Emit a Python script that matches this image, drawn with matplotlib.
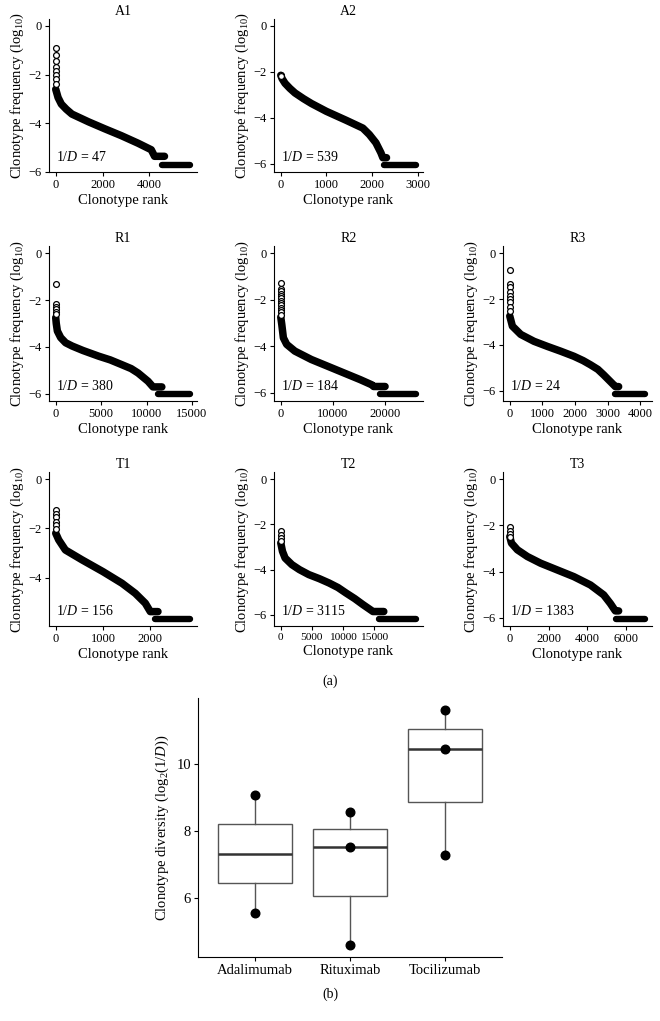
import numpy as np
import matplotlib
matplotlib.use('Agg')
import matplotlib.pyplot as plt
from matplotlib import transforms

plt.rcParams['font.family'] = ['Liberation Serif', 'DejaVu Serif']
plt.rcParams['mathtext.fontset'] = 'custom'
plt.rcParams['mathtext.rm'] = 'Liberation Serif'
plt.rcParams['mathtext.it'] = 'Liberation Serif:italic'
plt.rcParams['axes.unicode_minus'] = True

# --- rank/frequency curves (log10 frequency) ---
# main band (line), top singletons (open circles at rank ~0), flat tail
A1_rank = [0, 100, 240, 450, 690, 1400, 2100, 2800, 3510, 4075, 4217, 4640]
A1_freq = [-2.61, -2.95, -3.22, -3.43, -3.63, -3.95, -4.24, -4.52, -4.83, -5.10, -5.37, -5.37]
A1_top = [-0.91, -1.18, -1.43, -1.70, -1.84, -2.04, -2.20, -2.41]
A1_tail_rank = [4526, 5740]
A1_tail_freq = [-5.73, -5.73]

A2_rank = [0, 30, 94, 200, 312, 500, 674, 1000, 1435, 1800, 1943, 2087, 2196, 2240, 2320]
A2_freq = [-2.15, -2.30, -2.50, -2.72, -2.92, -3.17, -3.38, -3.72, -4.11, -4.45, -4.73, -5.09, -5.52, -5.74, -5.74]
A2_top = [-2.13, -2.20]
A2_tail_rank = [2270, 2972]
A2_tail_freq = [-6.06, -6.06]

R1_rank = [0, 60, 180, 545, 1090, 1808, 3000, 4715, 6000, 7253, 8300, 9070, 10160, 10705, 11680]
R1_freq = [-2.75, -3.00, -3.32, -3.60, -3.82, -3.96, -4.15, -4.39, -4.55, -4.75, -4.92, -5.11, -5.46, -5.70, -5.70]
R1_top = [-1.32, -2.15, -2.29, -2.40, -2.50, -2.60]
R1_tail_rank = [11250, 14810]
R1_tail_freq = [-6.00, -6.00]

R2_rank = [0, 190, 500, 1130, 2700, 5850, 9000, 12140, 15280, 17480, 17800, 20000]
R2_freq = [-2.75, -3.06, -3.64, -3.92, -4.21, -4.57, -4.86, -5.15, -5.44, -5.66, -5.73, -5.73]
R2_top = [-1.28, -1.55, -1.65, -1.75, -1.85, -1.95, -2.05, -2.15, -2.25, -2.35, -2.45, -2.55, -2.65]
R2_tail_rank = [19060, 25975]
R2_tail_freq = [-6.05, -6.05]

R3_rank = [0, 80, 336, 743, 1150, 1560, 1964, 2250, 2473, 2700, 2880, 3084, 3237, 3338]
R3_freq = [-2.74, -3.18, -3.54, -3.84, -4.06, -4.27, -4.49, -4.68, -4.86, -5.06, -5.30, -5.59, -5.81, -5.81]
R3_top = [-0.72, -1.35, -1.46, -1.71, -1.86, -2.00, -2.15, -2.34, -2.52]
R3_tail_rank = [3237, 4153]
R3_tail_freq = [-6.13, -6.13]

T1_rank = [0, 63, 204, 556, 1000, 1401, 1683, 1894, 2000, 2162]
T1_freq = [-2.20, -2.47, -2.88, -3.28, -3.76, -4.23, -4.64, -5.04, -5.38, -5.38]
T1_top = [-1.26, -1.42, -1.53, -1.73, -1.86, -2.04]
T1_tail_rank = [2106, 2845]
T1_tail_freq = [-5.68, -5.68]

T2_rank = [0, 270, 700, 1790, 3000, 4510, 6200, 7770, 9200, 10490, 11900, 13200, 14840, 16580]
T2_freq = [-2.82, -3.19, -3.49, -3.78, -4.00, -4.22, -4.40, -4.59, -4.79, -5.03, -5.28, -5.54, -5.85, -5.85]
T2_top = [-2.31, -2.46, -2.60, -2.75]
T2_tail_rank = [15815, 21800]
T2_tail_freq = [-6.18, -6.18]

T3_rank = [0, 86, 394, 908, 1594, 2451, 3308, 4165, 4850, 5193, 5450, 5620]
T3_freq = [-2.49, -2.77, -3.06, -3.35, -3.64, -3.93, -4.22, -4.58, -5.01, -5.38, -5.70, -5.70]
T3_top = [-2.08, -2.23, -2.37, -2.49]
T3_tail_rank = [5500, 6993]
T3_tail_freq = [-6.05, -6.05]

# inverse Simpson index per sample
inv_D = {'A1': 47, 'A2': 539, 'R1': 380, 'R2': 184, 'R3': 24,
         'T1': 156, 'T2': 3115, 'T3': 1383}

x_ticks = {
    'A1': [0, 2000, 4000], 'A2': [0, 1000, 2000, 3000],
    'R1': [0, 5000, 10000, 15000], 'R2': [0, 10000, 20000],
    'R3': [0, 1000, 2000, 3000, 4000], 'T1': [0, 1000, 2000],
    'T2': [0, 5000, 10000, 15000], 'T3': [0, 2000, 4000, 6000],
}

# (b) box plot groups
groups = ['Adalimumab', 'Rituximab', 'Tocilizumab']
group_samples = [['A1', 'A2'], ['R1', 'R2', 'R3'], ['T1', 'T2', 'T3']]

panels = {
    'A1': (A1_rank, A1_freq, A1_top, A1_tail_rank, A1_tail_freq),
    'A2': (A2_rank, A2_freq, A2_top, A2_tail_rank, A2_tail_freq),
    'R1': (R1_rank, R1_freq, R1_top, R1_tail_rank, R1_tail_freq),
    'R2': (R2_rank, R2_freq, R2_top, R2_tail_rank, R2_tail_freq),
    'R3': (R3_rank, R3_freq, R3_top, R3_tail_rank, R3_tail_freq),
    'T1': (T1_rank, T1_freq, T1_top, T1_tail_rank, T1_tail_freq),
    'T2': (T2_rank, T2_freq, T2_top, T2_tail_rank, T2_tail_freq),
    'T3': (T3_rank, T3_freq, T3_top, T3_tail_rank, T3_tail_freq),
}

W, H = 660, 1021
fig = plt.figure(figsize=(W / 100, H / 100), dpi=100)


def rect(l, t, r, b):
    return [l / W, 1 - b / H, (r - l) / W, (b - t) / H]


def style(ax, tick_fs):
    for s in ['top', 'right']:
        ax.spines[s].set_visible(False)
    for s in ['left', 'bottom']:
        ax.spines[s].set_linewidth(0.8)
    ax.tick_params(direction='out', length=3, width=0.8, labelsize=tick_fs, pad=2)


cols = [(49, 197), (274, 423), (503, 652)]
rows = [(19, 172), (246, 401), (472, 626)]
layout = [['A1', 'A2', None], ['R1', 'R2', 'R3'], ['T1', 'T2', 'T3']]

for ri, row in enumerate(layout):
    for ci, name in enumerate(row):
        if name is None:
            continue
        rank, freq, top, tail_r, tail_f = panels[name]
        ax = fig.add_axes(rect(cols[ci][0], rows[ri][0], cols[ci][1], rows[ri][1]))
        ax.plot(rank, freq, color='black', lw=5.4, solid_capstyle='round',
                solid_joinstyle='round')
        ax.plot(tail_r, tail_f, color='black', lw=4.6, solid_capstyle='round')
        ax.plot(np.zeros(len(top)), top, 'o', ms=4.2, mfc='white', mec='black', mew=0.9)

        # ggplot-like expansion, y limits include 0
        lo = min(min(freq), min(tail_f))
        ax.set_ylim(lo + 0.05 * lo, -0.05 * lo)
        xmax = max(tail_r)
        ax.set_xlim(-0.05 * xmax, 1.05 * xmax)
        ax.set_yticks([t for t in [0, -2, -4, -6] if t >= lo + 0.05 * lo])
        ax.set_xticks(x_ticks[name])
        style(ax, 9)
        if name == 'T2':
            ax.tick_params(axis='x', labelsize=8.2)

        ax.set_title(name, fontsize=10, pad=3)
        ax.set_xlabel('Clonotype rank', fontsize=10.5, labelpad=2)
        ax.set_ylabel('Clonotype frequency (log$_{10}$)', fontsize=10.5, labelpad=2)
        trans = transforms.blended_transform_factory(ax.transData, ax.transAxes)
        ax.text(0, 0.1, '1/$D$ = %d' % inv_D[name], transform=trans,
                ha='left', va='center', fontsize=10)

fig.text(330 / W, 1 - 681 / H, '(a)', ha='center', va='center', fontsize=10)

# --- (b) box plot of log2(1/D) ---
axb = fig.add_axes(rect(198, 698, 502, 957))
div = [np.log2([inv_D[s] for s in g]) for g in group_samples]
pos = np.arange(1, len(groups) + 1)
axb.boxplot(div, positions=pos, widths=0.78, whis=(0, 100), showcaps=False,
            showfliers=False, patch_artist=True,
            boxprops=dict(facecolor='white', edgecolor='#555555', linewidth=1.0),
            whiskerprops=dict(color='#555555', linewidth=1.0),
            medianprops=dict(color='#333333', linewidth=1.8))
for p, d in zip(pos, div):
    axb.plot(np.full(len(d), p), d, 'o', color='black', ms=6.2, zorder=3)
allv = np.concatenate(div)
r = allv.max() - allv.min()
axb.set_ylim(allv.min() - 0.05 * r, allv.max() + 0.05 * r)
axb.set_xlim(0.4, 3.6)
axb.set_yticks([6, 8, 10])
axb.set_xticks(pos)
axb.set_xticklabels(groups)
style(axb, 10.5)
axb.set_ylabel('Clonotype diversity (log$_2$(1/$D$))', fontsize=10.5, labelpad=4)

fig.text(330 / W, 1 - 994 / H, '(b)', ha='center', va='center', fontsize=10)

fig.savefig('out.png', dpi=100)
